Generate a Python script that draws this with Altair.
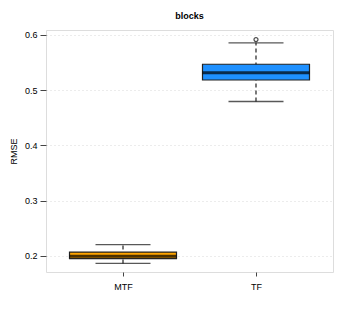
import altair as alt
import pandas as pd

groups = ["MTF", "TF"]
colors = ["#FFA500", "#1E90FF"]
q1 = [0.1952, 0.5185]
median = [0.1995, 0.5315]
q3 = [0.2070, 0.5470]
whisk_lo = [0.1866, 0.4796]
whisk_hi = [0.2204, 0.5857]
outlier_group = ["TF"]
outlier_val = [0.5917]

df = pd.DataFrame({"g": groups, "q1": q1, "med": median, "q3": q3,
                   "lo": whisk_lo, "hi": whisk_hi, "col": colors})
dfo = pd.DataFrame({"g": outlier_group, "v": outlier_val})

FONT = "Liberation Sans"
xs = alt.X("g:N", scale=alt.Scale(type="point", domain=groups, padding=0.579),
           axis=alt.Axis(title=None, labelAngle=0, labelFontSize=9, labelColor="#000",
                         labelFont=FONT, tickSize=4, tickColor="#444", domain=False,
                         grid=False, labelPadding=6))
yscale = alt.Scale(domain=[0.171, 0.609], nice=False, zero=False)
yax = alt.Axis(title="RMSE", values=[0.2, 0.3, 0.4, 0.5, 0.6], format=".1f",
               labelFontSize=9, labelColor="#000", labelFont=FONT, titleFont=FONT,
               titleFontSize=9, titleFontWeight="normal", titleColor="#000",
               tickSize=6, tickColor="#444", domain=False, grid=True,
               gridColor="#d8d8d8", gridDash=[1, 3], gridWidth=1, titlePadding=6,
               labelPadding=3)

whisk = alt.Chart(df).mark_rule(color="#333", strokeDash=[4, 3], strokeWidth=1.3).encode(
    x=xs, y=alt.Y("lo:Q", scale=yscale, axis=yax), y2="hi:Q")
caps_lo = alt.Chart(df).mark_tick(color="#111", size=55, thickness=1.3).encode(
    x=xs, y=alt.Y("lo:Q", scale=yscale))
caps_hi = alt.Chart(df).mark_tick(color="#111", size=55, thickness=1.3).encode(
    x=xs, y=alt.Y("hi:Q", scale=yscale))
box = alt.Chart(df).mark_bar(size=107, stroke="#222", strokeWidth=1.2).encode(
    x=xs, y=alt.Y("q1:Q", scale=yscale), y2="q3:Q",
    color=alt.Color("col:N", scale=None))
med = alt.Chart(df).mark_tick(color="#000", size=107, thickness=3).encode(
    x=xs, y=alt.Y("med:Q", scale=yscale))
outl = alt.Chart(dfo).mark_point(shape="circle", size=16, color="#000", filled=False,
                                 strokeWidth=1.2).encode(
    x=xs, y=alt.Y("v:Q", scale=yscale))

chart = alt.layer(whisk, caps_lo, caps_hi, box, med, outl).properties(
    width=287, height=242,
    title=alt.TitleParams("blocks", fontSize=9, fontWeight="bold", font=FONT,
                          color="#000", anchor="middle", offset=9),
    autosize=alt.AutoSizeParams(type="none"),
    padding={"left": 38, "top": 22, "right": 6, "bottom": 36},
).configure_view(stroke="#222", strokeWidth=1.4).configure(background="white")

chart.save("out.html", embed_options={"renderer": "svg", "actions": False})
